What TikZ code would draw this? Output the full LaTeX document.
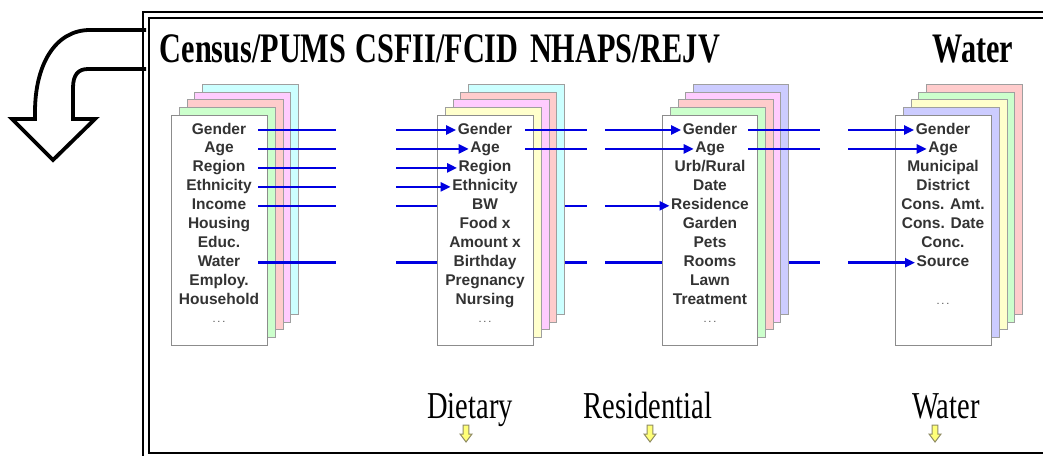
\documentclass[tikz,border=0pt]{standalone}
\usepackage{fontspec}
\usepackage{graphicx}
\setmainfont{Liberation Serif}
\setsansfont{Liberation Sans}
\usetikzlibrary{arrows.meta}
\definecolor{blueC}{RGB}{0,0,225}
\definecolor{ccyan}{RGB}{204,255,255}
\definecolor{cpink}{RGB}{255,204,255}
\definecolor{csalmon}{RGB}{255,204,204}
\definecolor{cgreen}{RGB}{204,255,204}
\definecolor{cyellow}{RGB}{255,255,204}
\definecolor{clav}{RGB}{204,204,255}
\definecolor{yfill}{RGB}{255,255,120}
\newcommand\sqz[1]{\scalebox{0.75}[1]{#1}}
\newcommand\sqzt[1]{\scalebox{0.72}[1]{#1}}
\tikzset{
  sheet/.style={draw=gray!75, line width=1pt, minimum width=96pt, minimum height=230pt, inner sep=0pt, anchor=north west},
  frontsheet/.style={sheet, draw=gray!90, line width=1.3pt, fill=white},
  rowtxt/.style={font=\sffamily\bfseries\fontsize{15.5}{17}\selectfont, text=black!80, inner sep=1.5pt, text height=11pt, text depth=3pt},
  dots/.style={font=\sffamily\fontsize{11}{12}\selectfont, text=black!70, inner sep=0pt, anchor=base},
  bl/.style={draw=blueC, line width=2.4pt},
  bla/.style={bl, -{Triangle[length=10pt,width=9pt]}},
  ttl/.style={font=\bfseries\fontsize{42}{46}\selectfont, anchor=base, inner sep=0pt},
  lbl/.style={font=\fontsize{38}{42}\selectfont, anchor=base, inner sep=0pt},
  yarrow/.style={draw=gray!70!olive, line width=1pt, fill=yfill},
  ydown/.pic={\draw[yarrow] (-2.8,0) -- (2.8,0) -- (2.8,9) -- (6,9) -- (0,17) -- (-6,9) -- (-2.8,9) -- cycle;}
}
\begin{document}
\begin{tikzpicture}[x=1pt,y=-1pt]
\useasboundingbox (0,0) rectangle (1043,455);
\clip (0,0) rectangle (1043,455);
\fill[white] (0,0) rectangle (1043,455);

% curved block arrow
\draw[line width=3.8pt, line join=miter, fill=white]
  (146,30) -- (90,30) .. controls (55,30) and (35,65) .. (35,112) -- (35,119)
  -- (12,119) -- (53,160) -- (95,119) -- (73,119) -- (73,88)
  .. controls (73,75) and (78,69) .. (88,69) -- (146,69);

% double frame
\draw[line width=2.2pt] (143,12) rectangle (1070,480);
\draw[line width=2.2pt] (149,18) rectangle (1070,453);

% titles
\node[ttl] (tcen) at (253,62) {\sqzt{Census/PUMS}};
\node[ttl] (tcsf) at (437,62) {\sqzt{CSFII/FCID}};
\node[ttl] (tnh) at (625,62) {\sqzt{NHAPS/REJV}};
\node[ttl] (twa) at (973,62) {\sqzt{Water}};

% stacks: back sheets
\foreach \k/\c in {4/ccyan,3/cpink,2/csalmon,1/cgreen}
  \node[sheet, fill=\c] (cen\k) at ({171+7.8*\k},{115-7.8*\k}) {};
\node[frontsheet] (cenF) at (171,115) {};
\foreach \k/\c in {4/ccyan,3/csalmon,2/cpink,1/cyellow}
  \node[sheet, fill=\c] (csf\k) at ({437+7.8*\k},{115-7.8*\k}) {};
\node[frontsheet] (csfF) at (437,115) {};
\foreach \k/\c in {4/clav,3/cpink,2/csalmon,1/cgreen}
  \node[sheet, fill=\c, minimum width=95pt] (nh\k) at ({662+7.8*\k},{115-7.8*\k}) {};
\node[frontsheet, minimum width=95pt] (nhF) at (662,115) {};
\foreach \k/\c in {4/csalmon,3/cgreen,2/cyellow,1/clav}
  \node[sheet, fill=\c] (wa\k) at ({895+7.8*\k},{115-7.8*\k}) {};
\node[frontsheet] (waF) at (895,115) {};

% texts
\foreach \t [count=\i] in {Gender,Age,Region,Ethnicity,Income,Housing,Educ.,Water,Employ.,Household}
  \node[rowtxt] (cen-\i) at (219,{130+18.95*(\i-1)}) {\t};
\node[dots] (cendots) at (219,322) {.\,.\,.};
\foreach \t [count=\i] in {Gender,Age,Region,Ethnicity,BW,Food x,Amount x,Birthday,Pregnancy,Nursing}
  \node[rowtxt] (csf-\i) at (485,{130+18.95*(\i-1)}) {\t};
\node[dots] (csfdots) at (485,322) {.\,.\,.};
\foreach \t [count=\i] in {Gender,Age,Urb/Rural,Date,Residence,Garden,Pets,Rooms,Lawn,Treatment}
  \node[rowtxt] (nh-\i) at (710,{130+18.95*(\i-1)}) {\t};
\node[dots] (nhdots) at (710,322) {.\,.\,.};
\foreach \t [count=\i] in {Gender,Age,Municipal,District,Cons. Amt.,Cons. Date,Conc.,Source}
  \node[rowtxt] (wa-\i) at (943,{130+18.95*(\i-1)}) {\t};
\node[dots] (wadots) at (943,304) {.\,.\,.};

% gap coordinates
\coordinate (xa) at (258,0);
\coordinate (xb) at (336,0);
\coordinate (xc) at (396,0);
\coordinate (xd) at (525,0);
\coordinate (xe) at (587,0);
\coordinate (xf) at (605,0);
\coordinate (xg) at (748,0);
\coordinate (xh) at (820,0);
\coordinate (xi) at (848,0);

% blue links
\foreach \i in {1,2,3,4,5,8}
  \draw[bl] (xa |- cen-\i) -- (xb |- cen-\i);
\foreach \i in {1,2,3,4}
  \draw[bla] (xc |- cen-\i) -- (csf-\i.west);
\foreach \i in {5,8}
  \draw[bl] (xc |- cen-\i) -- (csfF.west |- cen-\i);
\foreach \i in {1,2}
  \draw[bl] (xd |- csf-\i) -- (xe |- csf-\i);
\foreach \i in {5,8}
  \draw[bl] (csf4.east |- csf-\i) -- (xe |- csf-\i);
\foreach \i in {1,2,5}
  \draw[bla] (xf |- nh-\i) -- (nh-\i.west);
\draw[bl] (xf |- nh-8) -- (nhF.west |- nh-8);
\foreach \i in {1,2}
  \draw[bl] (xg |- nh-\i) -- (xh |- nh-\i);
\draw[bl] (nh4.east |- nh-8) -- (xh |- nh-8);
\foreach \i in {1,2,8}
  \draw[bla] (xi |- wa-\i) -- (wa-\i.west);

% bottom labels
\node[lbl] (ldiet) at (470,418) {\sqz{Dietary}};
\node[lbl] (lres) at (648,418) {\sqz{Residential}};
\node[lbl] (lwat) at (946,418) {\sqz{Water}};
\pic at (466,425) {ydown};
\pic at (650,425) {ydown};
\pic at (935,425) {ydown};
\end{tikzpicture}
\end{document}
